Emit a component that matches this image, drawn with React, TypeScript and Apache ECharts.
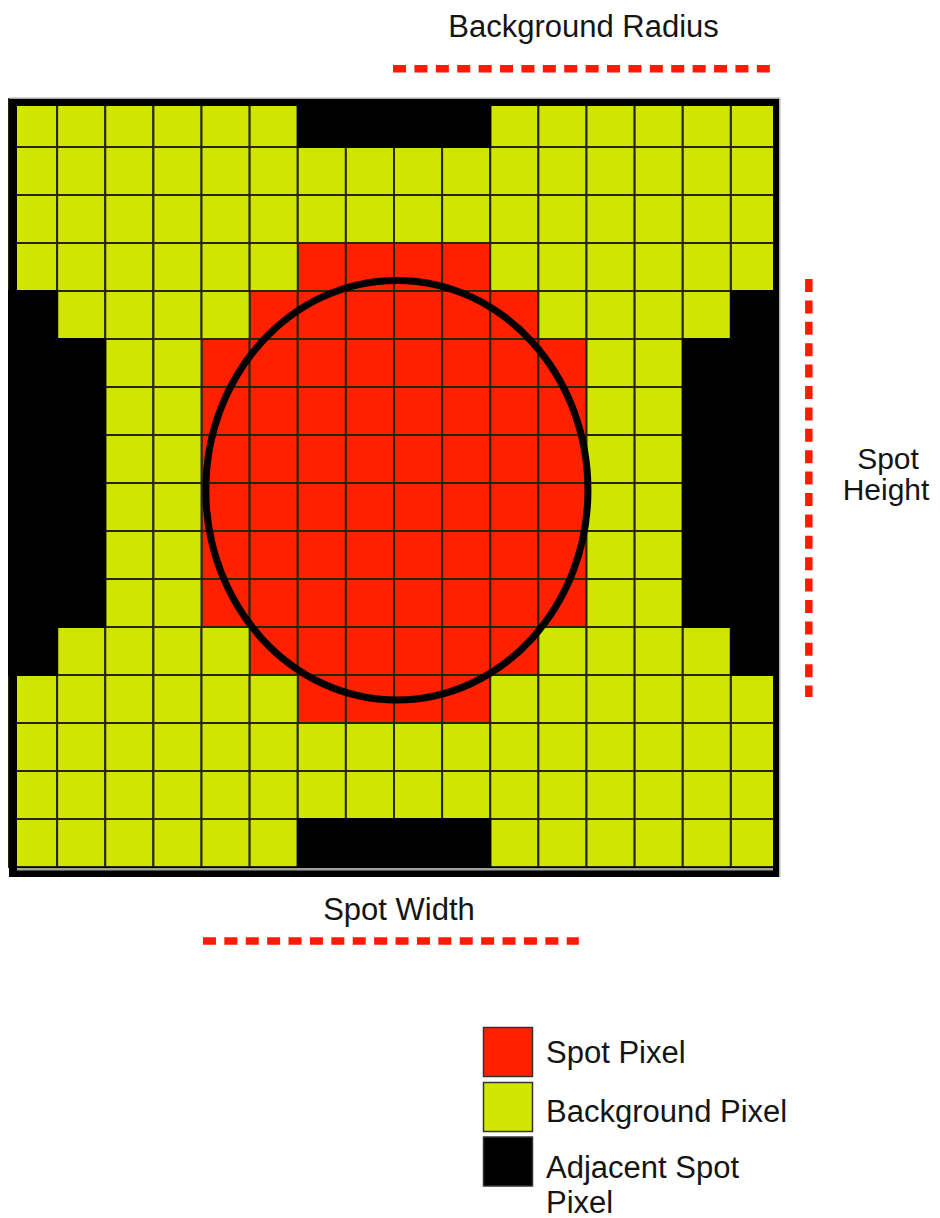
import React, { useEffect, useRef } from "react";
import * as echarts from "echarts";

// 16 x 16 pixel map (R = spot, G = background, B = adjacent spot)
const cellRows: string[] = [
  "GGGGGGBBBBGGGGGG",
  "GGGGGGGGGGGGGGGG",
  "GGGGGGGGGGGGGGGG",
  "GGGGGGRRRRGGGGGG",
  "BGGGGRRRRRRGGGGB",
  "BBGGRRRRRRRRGGBB",
  "BBGGRRRRRRRRGGBB",
  "BBGGRRRRRRRRGGBB",
  "BBGGRRRRRRRRGGBB",
  "BBGGRRRRRRRRGGBB",
  "BBGGRRRRRRRRGGBB",
  "BGGGGRRRRRRGGGGB",
  "GGGGGGRRRRGGGGGG",
  "GGGGGGGGGGGGGGGG",
  "GGGGGGGGGGGGGGGG",
  "GGGGGGBBBBGGGGGG",
];

const pixelClassNames: string[] = ["Spot Pixel", "Background Pixel", "Adjacent Spot Pixel"];
const pixelClassCodes: string[] = ["R", "G", "B"];
const pixelClassColors: string[] = ["#ff2000", "#d0e600", "#000000"];
const pixelClassStrokes: string[] = ["#262600", "#262600", "#000000"];
const legendLabelLines: string[][] = [["Spot Pixel"], ["Background Pixel"], ["Adjacent Spot", "Pixel"]];

// spot outline in grid units: [centerCol, centerRow, radiusCols, radiusRows]
const spotEllipse: number[] = [8.06, 8.15, 3.97, 4.37];

// dimension markers in grid units: [x1, y1, x2, y2]
const dimensionNames: string[] = ["Background Radius", "Spot Width", "Spot Height"];
const dimensionLines: number[][] = [
  [7.98, -0.63, 15.81, -0.63],
  [4.03, 17.54, 11.84, 17.54],
  [16.62, 3.75, 16.62, 12.46],
];

const FONT = '"Liberation Sans", Arial, sans-serif';
const TEXT_COLOR = "#151515";

function buildCells(code: string): number[][] {
  const out: number[][] = [];
  cellRows.forEach((row, r) => {
    row.split("").forEach((ch, c) => {
      if (ch === code) out.push([c, r, pixelClassCodes.indexOf(ch)]);
    });
  });
  return out;
}

function makeText(text: string, x: number, y: number, align: string, fontSize: number) {
  return {
    type: "text",
    z: 100,
    style: {
      text,
      x,
      y,
      align,
      verticalAlign: "middle",
      fill: TEXT_COLOR,
      fontSize,
      fontFamily: FONT,
    },
  };
}

export default function App() {
  const ref = useRef<HTMLDivElement>(null);

  useEffect(() => {
    document.body.style.margin = "0";
    if (!ref.current) return;
    const chart = echarts.init(ref.current, undefined, { renderer: "svg" });

    const cellSeries = pixelClassCodes.map((code, k) => ({
      type: "custom",
      name: pixelClassNames[k],
      coordinateSystem: "cartesian2d",
      clip: false,
      z: 2,
      data: buildCells(code),
      renderItem: (params: any, api: any) => {
        const c = api.value(0);
        const r = api.value(1);
        const p0 = api.coord([c, r]);
        const p1 = api.coord([c + 1, r + 1]);
        return {
          type: "rect",
          shape: { x: p0[0], y: p0[1], width: p1[0] - p0[0], height: p1[1] - p0[1] },
          style: { fill: pixelClassColors[k], stroke: pixelClassStrokes[k], lineWidth: 2 },
        };
      },
    }));

    const ellipseSeries = {
      type: "custom",
      name: "Spot outline",
      coordinateSystem: "cartesian2d",
      clip: false,
      z: 5,
      data: [spotEllipse],
      renderItem: (params: any, api: any) => {
        const c = api.coord([api.value(0), api.value(1)]);
        const s = api.size([api.value(2), api.value(3)]);
        return {
          type: "ellipse",
          shape: { cx: c[0], cy: c[1], rx: Math.abs(s[0]), ry: Math.abs(s[1]) },
          style: { fill: "none", stroke: "#000000", lineWidth: 7 },
        };
      },
    };

    const dimensionSeries = {
      type: "custom",
      name: "Dimensions",
      coordinateSystem: "cartesian2d",
      clip: false,
      z: 6,
      data: dimensionLines,
      renderItem: (params: any, api: any) => {
        const a = api.coord([api.value(0), api.value(1)]);
        const b = api.coord([api.value(2), api.value(3)]);
        return {
          type: "line",
          shape: { x1: a[0], y1: a[1], x2: b[0], y2: b[1] },
          style: { stroke: "#ff1a00", lineWidth: 7.5, lineDash: [13, 8.4], lineCap: "butt" },
        };
      },
    };

    const frame = [
      { type: "rect", shape: { x: 9, y: 97.5, width: 771, height: 1.5 }, style: { fill: "#a8a8a8" } },
      { type: "rect", shape: { x: 779, y: 98, width: 1.5, height: 779 }, style: { fill: "#b8b8b8" } },
      { type: "rect", shape: { x: 9, y: 99, width: 770, height: 7 }, style: { fill: "#000" } },
      { type: "rect", shape: { x: 9, y: 99, width: 8, height: 778 }, style: { fill: "#000" } },
      { type: "rect", shape: { x: 773, y: 99, width: 6, height: 778 }, style: { fill: "#000" } },
      { type: "rect", shape: { x: 9, y: 867, width: 770, height: 10 }, style: { fill: "#000" } },
      { type: "rect", shape: { x: 17, y: 868, width: 756, height: 2.5 }, style: { fill: "#a0a0a0" } },
    ].map((e) => ({ ...e, z: 100 }));

    const labelTexts = [
      makeText(dimensionNames[0], 583.5, 26, "center", 31),
      makeText(dimensionNames[1], 399, 909, "center", 31),
      makeText("Spot", 888, 458, "center", 30),
      makeText("Height", 886, 489.5, "center", 30),
    ];

    const legendBoxTops = [1027.5, 1082.5, 1137];
    const legendLineY = [[1052.5], [1111], [1167.5, 1202]];
    const legendItems: any[] = [];
    pixelClassColors.forEach((color, k) => {
      legendItems.push({
        type: "rect",
        z: 100,
        shape: { x: 483.5, y: legendBoxTops[k], width: 49, height: 49 },
        style: { fill: color, stroke: "#333", lineWidth: 1.5 },
      });
      legendLabelLines[k].forEach((line, i) => {
        legendItems.push(makeText(line, 546, legendLineY[k][i], "left", 31));
      });
    });

    chart.setOption({
      animation: false,
      backgroundColor: "#ffffff",
      grid: { left: 9, top: 99, width: 770, height: 768, containLabel: false },
      xAxis: { type: "value", min: 0, max: 16, show: false },
      yAxis: { type: "value", min: 0, max: 16, inverse: true, show: false },
      series: [...cellSeries, ellipseSeries, dimensionSeries],
      graphic: [...frame, ...labelTexts, ...legendItems],
    });

    return () => chart.dispose();
  }, []);

  return (
    <div
      ref={ref}
      style={{ position: "fixed", left: 0, top: 0, width: 940, height: 1218, background: "#fff" }}
    />
  );
}
